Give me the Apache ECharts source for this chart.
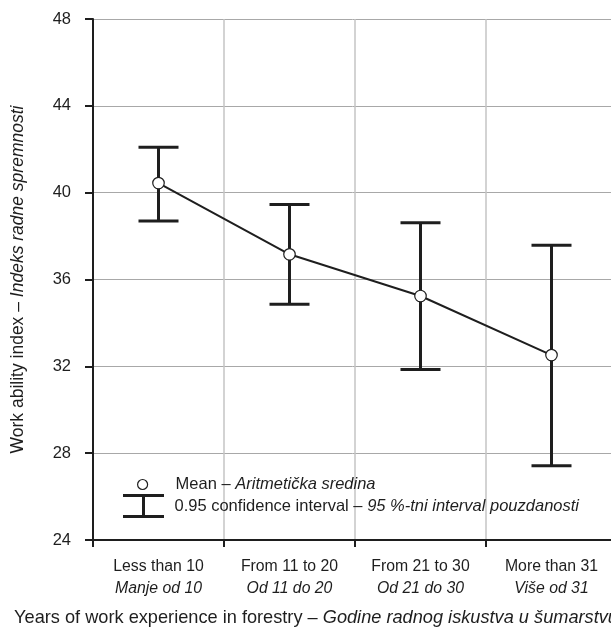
<!DOCTYPE html>
<html>
<head>
<meta charset="utf-8">
<script src="https://cdn.jsdelivr.net/npm/echarts@6/dist/echarts.min.js"></script>
<style>html,body{margin:0;padding:0;background:#fff}#c{width:611px;height:630px}</style>
</head>
<body>
<div id="c"></div>
<script>
var categories = ['Less than 10', 'From 11 to 20', 'From 21 to 30', 'More than 31'];
var categoriesLocal = ['Manje od 10', 'Od 11 do 20', 'Od 21 do 30', 'Više od 31'];
var means = [40.44, 37.16, 35.24, 32.52];
var lower = [38.69, 34.86, 31.85, 27.42];
var upper = [42.09, 39.46, 38.61, 37.58];
var yTicks = {min: 24, max: 48, interval: 4};

var FONT = "'Liberation Sans', Arial, sans-serif";
var INK = '#1e1e1e';

var ciData = categories.map(function (c, i) { return [i, lower[i], upper[i]]; });

var chart = echarts.init(document.getElementById('c'));
chart.setOption({
  animation: false,
  backgroundColor: '#fff',
  textStyle: {fontFamily: FONT, color: INK},
  grid: {left: 93, top: 19, bottom: 90, right: -6, containLabel: false, outerBoundsMode: 'none'},
  legend: [
    {
      data: [{name: 'Mean', icon: 'circle'}],
      orient: 'vertical', left: 132, top: 471,
      itemWidth: 42, itemHeight: 10, itemGap: 0,
      itemStyle: {color: '#fff', borderColor: INK, borderWidth: 1.2},
      formatter: function () { return '{a|Mean – }{b|Aritmetička sredina}'; },
      textStyle: {fontFamily: FONT, fontSize: 16.5, color: INK, padding: [0, 0, 0, 7],
        rich: {a: {fontFamily: FONT, fontSize: 16.5, color: INK},
               b: {fontFamily: FONT, fontSize: 16.5, color: INK, fontStyle: 'italic'}}},
      selectedMode: false
    },
    {
      data: [{name: 'CI', icon: 'path://M0 0H41V3H22V21H41V24H0V21H19V3H0Z'}],
      orient: 'vertical', left: 118, top: 489,
      itemWidth: 42, itemHeight: 24, itemGap: 0,
      itemStyle: {color: INK, borderWidth: 0},
      formatter: function () { return '{a|0.95 confidence interval – }{b|95 %-tni interval pouzdanosti}'; },
      textStyle: {fontFamily: FONT, fontSize: 16.5, color: INK, padding: [0, 0, 0, 5],
        rich: {a: {fontFamily: FONT, fontSize: 16.5, color: INK},
               b: {fontFamily: FONT, fontSize: 16.5, color: INK, fontStyle: 'italic'}}},
      selectedMode: false
    }
  ],
  xAxis: {
    type: 'category',
    data: categories,
    boundaryGap: true,
    axisLine: {lineStyle: {color: INK, width: 2}},
    axisTick: {show: true, length: 7, lineStyle: {color: INK, width: 2}},
    splitLine: {show: true, lineStyle: {color: '#c4c4c4', width: 1.5}},
    axisLabel: {
      margin: 16,
      formatter: function (v, i) { return '{a|' + v + '}\n{b|' + categoriesLocal[i] + '}'; },
      rich: {
        a: {fontFamily: FONT, fontSize: 15.8, color: INK, lineHeight: 22},
        b: {fontFamily: FONT, fontSize: 15.8, color: INK, fontStyle: 'italic', lineHeight: 22}
      }
    },
    name: '{a|Years of work experience in forestry – }{b|Godine radnog iskustva u šumarstvu}',
    nameLocation: 'middle',
    nameGap: 69,
    nameTextStyle: {
      padding: [0, 78, 0, 0],
      rich: {
        a: {fontFamily: FONT, fontSize: 18.2, color: INK},
        b: {fontFamily: FONT, fontSize: 18.2, color: INK, fontStyle: 'italic'}
      }
    }
  },
  yAxis: {
    type: 'value',
    min: yTicks.min, max: yTicks.max, interval: yTicks.interval,
    axisLine: {show: true, lineStyle: {color: INK, width: 2}},
    axisTick: {show: true, length: 8, lineStyle: {color: INK, width: 2}},
    splitLine: {show: true, lineStyle: {color: '#a8a8a8', width: 1}},
    axisLabel: {margin: 22, fontFamily: FONT, fontSize: 16.5, color: INK},
    name: '{a|Work ability index – }{b|Indeks radne spremnosti}',
    nameLocation: 'middle',
    nameGap: 66,
    nameTextStyle: {
      rich: {
        a: {fontFamily: FONT, fontSize: 17.5, color: INK},
        b: {fontFamily: FONT, fontSize: 17.5, color: INK, fontStyle: 'italic'}
      }
    }
  },
  series: [
    {
      name: 'CI',
      type: 'custom',
      data: ciData,
      z: 2,
      itemStyle: {color: INK},
      renderItem: function (params, api) {
        var x = api.value(0);
        var lo = api.coord([x, api.value(1)]);
        var hi = api.coord([x, api.value(2)]);
        var hw = 20;
        var st = {stroke: INK, lineWidth: 3, fill: null};
        return {
          type: 'group',
          children: [
            {type: 'line', shape: {x1: lo[0], y1: lo[1], x2: hi[0], y2: hi[1]}, style: st},
            {type: 'line', shape: {x1: hi[0] - hw, y1: hi[1], x2: hi[0] + hw, y2: hi[1]}, style: st},
            {type: 'line', shape: {x1: lo[0] - hw, y1: lo[1], x2: lo[0] + hw, y2: lo[1]}, style: st}
          ]
        };
      }
    },
    {
      name: 'Mean',
      type: 'line',
      data: means,
      z: 5,
      symbol: 'circle',
      symbolSize: 11.5,
      showAllSymbol: true,
      lineStyle: {color: INK, width: 2},
      itemStyle: {color: '#fff', borderColor: INK, borderWidth: 1.2}
    }
  ]
});
</script>
</body>
</html>
